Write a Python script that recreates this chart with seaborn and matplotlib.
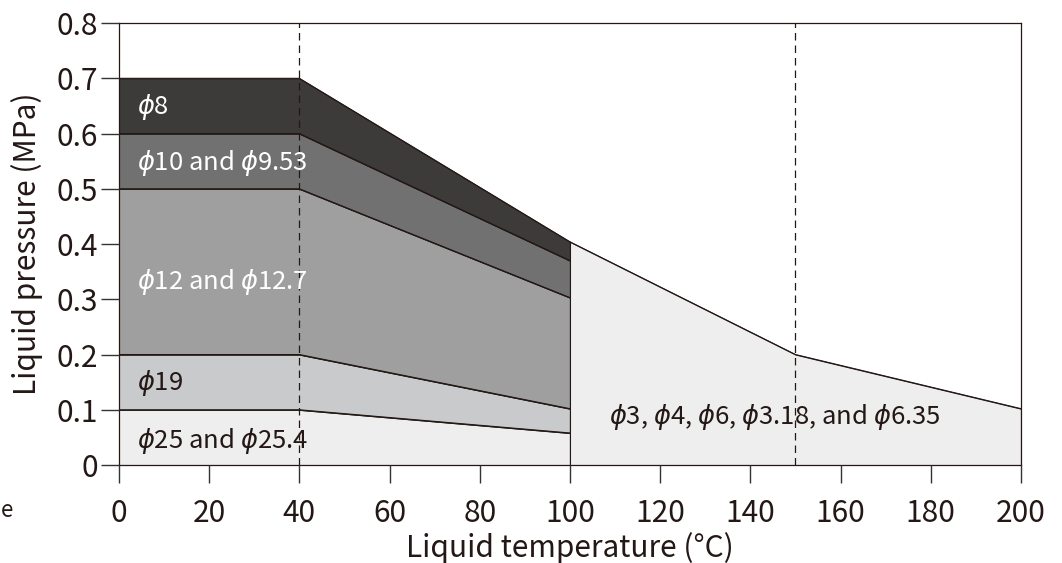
import numpy as np
import pandas as pd
import matplotlib
matplotlib.use("Agg")
import matplotlib.pyplot as plt
import seaborn as sns

# ---------------------------------------------------------------
# data
# ---------------------------------------------------------------
temp_left = [0, 40, 100]
top_25 = [0.1, 0.1, 0.058]
top_19 = [0.2, 0.2, 0.102]
top_12 = [0.5, 0.5, 0.303]
top_10 = [0.6, 0.6, 0.37]
top_8 = [0.7, 0.7, 0.404]

temp_right = [100, 150, 200]
top_small = [0.404, 0.2, 0.102]

band_labels = [r"$\phi$25 and $\phi$25.4", r"$\phi$19", r"$\phi$12 and $\phi$12.7",
               r"$\phi$10 and $\phi$9.53", r"$\phi$8"]
band_colors = ["#eeeeee", "#c9cacc", "#9f9f9f", "#717171", "#3d3a3a"]
band_text_colors = ["#231815", "#231815", "white", "white", "white"]
small_label = r"$\phi$3, $\phi$4, $\phi$6, $\phi$3.18, and $\phi$6.35"

guide_temps = [40, 150]
x_ticks = [0, 20, 40, 60, 80, 100, 120, 140, 160, 180, 200]
y_ticks = [0, 0.1, 0.2, 0.3, 0.4, 0.5, 0.6, 0.7, 0.8]
y_tick_labels = ["0", "0.1", "0.2", "0.3", "0.4", "0.5", "0.6", "0.7", "0.8"]

sns.set_theme(style="ticks")
plt.rcParams["font.family"] = ["Noto Sans CJK JP", "DejaVu Sans"]
plt.rcParams["mathtext.fontset"] = "custom"
plt.rcParams["mathtext.rm"] = "Noto Sans CJK JP"
plt.rcParams["mathtext.it"] = "DejaVu Sans:italic"

edge = "#231815"

fig = plt.figure(figsize=(10.62, 5.63), dpi=100)
ax = fig.add_axes([0.112, 0.174, 0.8494, 0.785])
ax.set_axisbelow(False)

tops = [top_25, top_19, top_12, top_10, top_8]
bottom = [0, 0, 0]
for top, col in zip(tops, band_colors):
    ax.fill_between(temp_left, bottom, top, facecolor=col, edgecolor=edge, linewidth=0.8, zorder=1)
    bottom = top

ax.fill_between(temp_right, [0, 0, 0], top_small, facecolor=band_colors[0], edgecolor=edge,
                linewidth=0.8, zorder=1)

# boundary lines
lines = []
for i, top in enumerate(tops):
    lines.append(pd.DataFrame({"temp": temp_left, "p": top, "band": i}))
lines.append(pd.DataFrame({"temp": temp_right, "p": top_small, "band": 9}))
df_lines = pd.concat(lines)
sns.lineplot(data=df_lines, x="temp", y="p", units="band", estimator=None, color=edge,
             linewidth=0.8, ax=ax, zorder=2)

for t in guide_temps:
    ax.axvline(t, color=edge, linestyle=(0, (6, 4)), linewidth=0.9, zorder=3)

# labels
label_y = [0.043, 0.148, 0.331, 0.547, 0.648]
for lab, y, c in zip(band_labels, label_y, band_text_colors):
    ax.text(4.0, y, lab, color=c, fontsize=18.5, va="center", ha="left", zorder=4)
ax.text(108.6, 0.087, small_label, color=edge, fontsize=18.5, va="center", ha="left", zorder=4)

ax.set_xlim(0, 200)
ax.set_ylim(0, 0.8)
ax.set_xticks(x_ticks)
ax.set_yticks(y_ticks)
ax.set_yticklabels(y_tick_labels)
ax.tick_params(axis="both", which="major", direction="out", length=13, width=1.0,
               color="#333333", labelsize=21.5, labelcolor=edge,
               bottom=True, left=True, top=False, right=False)
ax.tick_params(axis="x", pad=11)
ax.tick_params(axis="y", pad=2)
for s in ax.spines.values():
    s.set_visible(True)
    s.set_color(edge)
    s.set_linewidth(0.9)

ax.set_xlabel("Liquid temperature (°C)", fontsize=21.5, color=edge, labelpad=2)
ax.set_ylabel("Liquid pressure (MPa)", fontsize=21.5, color=edge, labelpad=10)
ax.set_facecolor("white")

fig.text(0.001, 0.094, "e", fontsize=16, color=edge, ha="left", va="center")

fig.savefig("out.png", dpi=100)
